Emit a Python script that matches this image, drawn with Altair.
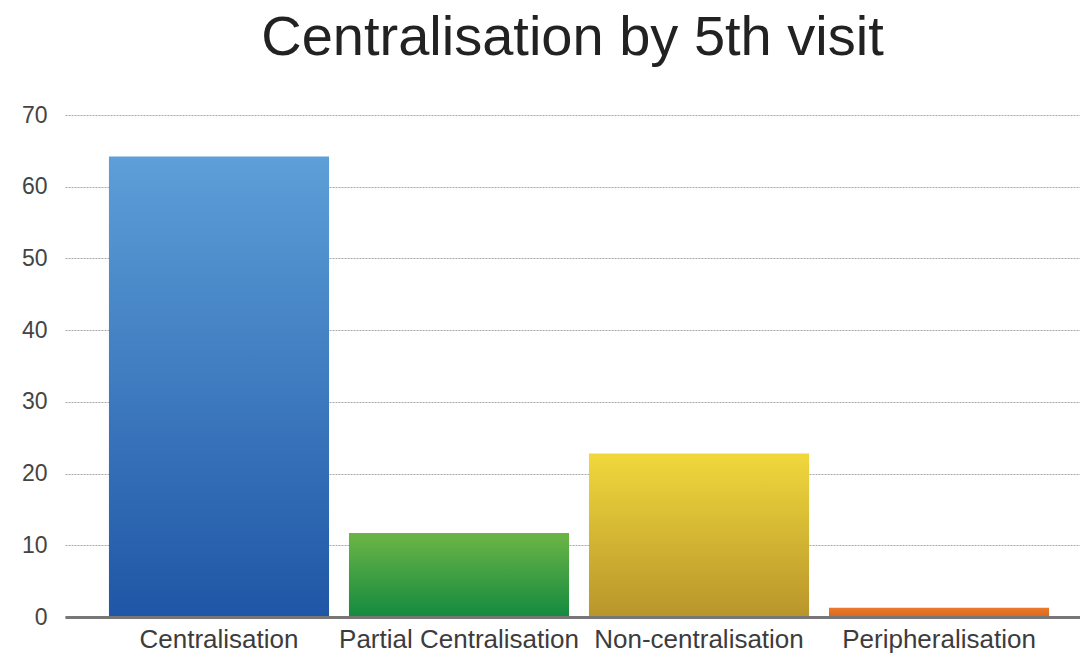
import altair as alt
import pandas as pd

categories = ["Centralisation", "Partial Centralisation", "Non-centralisation", "Peripheralisation"]
values = [64.2, 11.7, 22.8, 1.3]
top_colors = ["#5d9fd8", "#6cb545", "#f0d83c", "#ea7b2c"]
bottom_colors = ["#1f56a6", "#138a40", "#b8952b", "#d9661c"]
y_ticks = [0, 10, 20, 30, 40, 50, 60, 70]

df = pd.DataFrame({"category": categories, "value": values})

FONT = "Liberation Sans"

x_enc = alt.X(
    "category:N",
    sort=categories,
    scale=alt.Scale(paddingInner=0.083, paddingOuter=0.156, align=0.587),
    axis=alt.Axis(
        title=None, labelAngle=0, labelFont=FONT, labelFontSize=26,
        labelColor="#3c3c3c", labelPadding=9, ticks=False, labelLimit=400,
        domainColor="#777777", domainWidth=3, grid=False, zindex=1,
    ),
)
y_enc = alt.Y(
    "value:Q",
    scale=alt.Scale(domain=[0, 70], nice=False),
    axis=alt.Axis(
        title=None, values=y_ticks, labelFont=FONT, labelFontSize=23,
        labelColor="#444444", labelPadding=18, ticks=False, domain=False,
        grid=True, gridColor="#a8a8a8", gridDash=[2, 1], gridWidth=1,
    ),
)

layers = []
for cat, top, bot in zip(categories, top_colors, bottom_colors):
    grad = {
        "gradient": "linear",
        "x1": 0, "y1": 0, "x2": 0, "y2": 1,
        "stops": [{"offset": 0, "color": top}, {"offset": 1, "color": bot}],
    }
    layers.append(
        alt.Chart(df)
        .transform_filter(alt.datum.category == cat)
        .mark_bar(color=grad, opacity=1)
        .encode(x=x_enc, y=y_enc)
    )

chart = (
    alt.layer(*layers)
    .properties(
        width=1015,
        height=502,
        title=alt.TitleParams(
            "Centralisation by 5th visit", font=FONT, fontSize=56,
            fontWeight="normal", color="#222222", anchor="middle",
            offset=37,
        ),
        padding={"left": 57, "top": 107, "right": 0, "bottom": 40},
        autosize="none",
    )
    .configure_view(stroke=None)
)

chart.save("out.html", embed_options={"renderer": "svg", "actions": False})
